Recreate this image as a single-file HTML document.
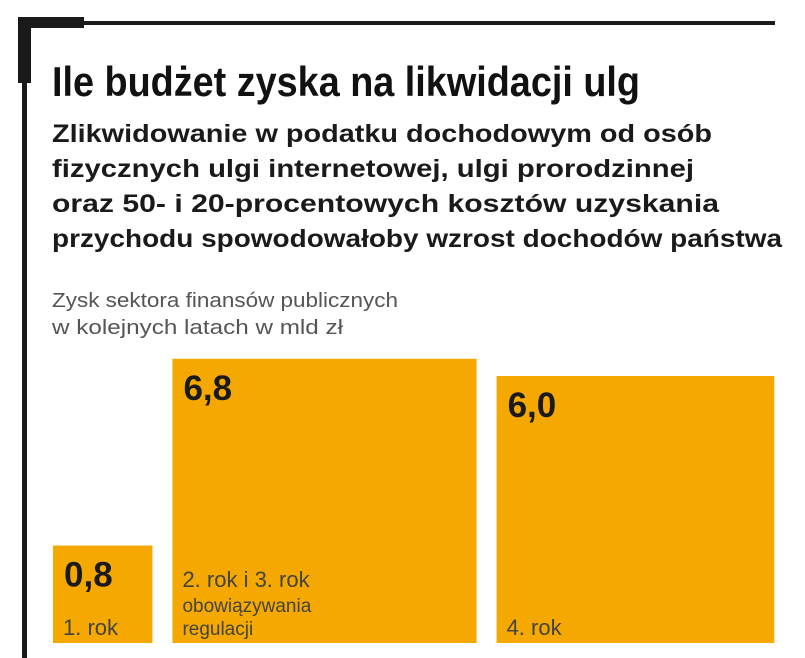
<!DOCTYPE html>
<html><head><meta charset="utf-8"><style>
html,body{margin:0;padding:0;background:#fff;}
svg{display:block;font-family:"Liberation Sans",sans-serif;}
</style></head><body>
<svg id="chart" width="805" height="658" viewBox="0 0 805 658">
  <rect x="18" y="17" width="66" height="11" fill="#1a1a1a"/>
  <rect x="18" y="17" width="13" height="66" fill="#1a1a1a"/>
  <rect x="80" y="21" width="695" height="4" fill="#1a1a1a"/>
  <rect x="22" y="80" width="5" height="578" fill="#1a1a1a"/>
  <text x="52" y="96" font-size="42" font-weight="bold" fill="#111" textLength="588" lengthAdjust="spacingAndGlyphs">Ile budżet zyska na likwidacji ulg</text>
  <g font-size="25" font-weight="bold" fill="#1a1a1a">
    <text x="52" y="142" textLength="660" lengthAdjust="spacingAndGlyphs">Zlikwidowanie w podatku dochodowym od osób</text>
    <text x="52" y="177" textLength="642" lengthAdjust="spacingAndGlyphs">fizycznych ulgi internetowej, ulgi prorodzinnej</text>
    <text x="52" y="212" textLength="667" lengthAdjust="spacingAndGlyphs">oraz 50- i 20-procentowych kosztów uzyskania</text>
    <text x="52" y="247" textLength="730" lengthAdjust="spacingAndGlyphs">przychodu spowodowałoby wzrost dochodów państwa</text>
  </g>
  <g font-size="20" fill="#555">
    <text x="52" y="307" textLength="346" lengthAdjust="spacingAndGlyphs">Zysk sektora finansów publicznych</text>
    <text x="52" y="334" textLength="291" lengthAdjust="spacingAndGlyphs">w kolejnych latach w mld zł</text>
  </g>
  <g id="bars"></g>
</svg>
<script>
const categories = [["1. rok"], ["2. rok i 3. rok", "obowiązywania", "regulacji"], ["4. rok"]];
const values = [0.8, 6.8, 6.0];
const valueLabels = ["0,8", "6,8", "6,0"];

const NS = "http://www.w3.org/2000/svg";
const baseY = 643, k = 109, gap = 20, startX = 53;
const widthFactor = [1.02, 1.07, 1.04];
function side(v){ return k * Math.sqrt(v); }
const g = document.getElementById("bars");
let x = startX;
values.forEach((v, i) => {
  const h = side(v), w = h * widthFactor[i];
  const y = baseY - h;
  const r = document.createElementNS(NS, "rect");
  
  
  r.setAttribute("x", x); r.setAttribute("y", y);
  r.setAttribute("width", w); r.setAttribute("height", h);
  r.setAttribute("fill", "#f5a800");
  g.appendChild(r);
  const t = document.createElementNS(NS, "text");
  
  
  t.setAttribute("x", x + 11); t.setAttribute("y", y + 41);
  t.setAttribute("font-size", "35"); t.setAttribute("font-weight", "bold");
  t.setAttribute("fill", "#1a1a1a");
  t.textContent = valueLabels[i];
  g.appendChild(t);
  const lines = categories[i];
  lines.forEach((ln, j) => {
    const c = document.createElementNS(NS, "text");
    
    
    const big = j === 0;
    c.setAttribute("x", x + 10);
    c.setAttribute("y", baseY - 8 - (lines.length - 1 - j) * 23 - (lines.length > 1 && big ? 2 : 0));
    c.setAttribute("font-size", big ? "22" : "19");
    c.setAttribute("fill", "#444");
    c.textContent = ln;
    g.appendChild(c);
  });
  x += w + gap;
});
</script>
</body></html>
